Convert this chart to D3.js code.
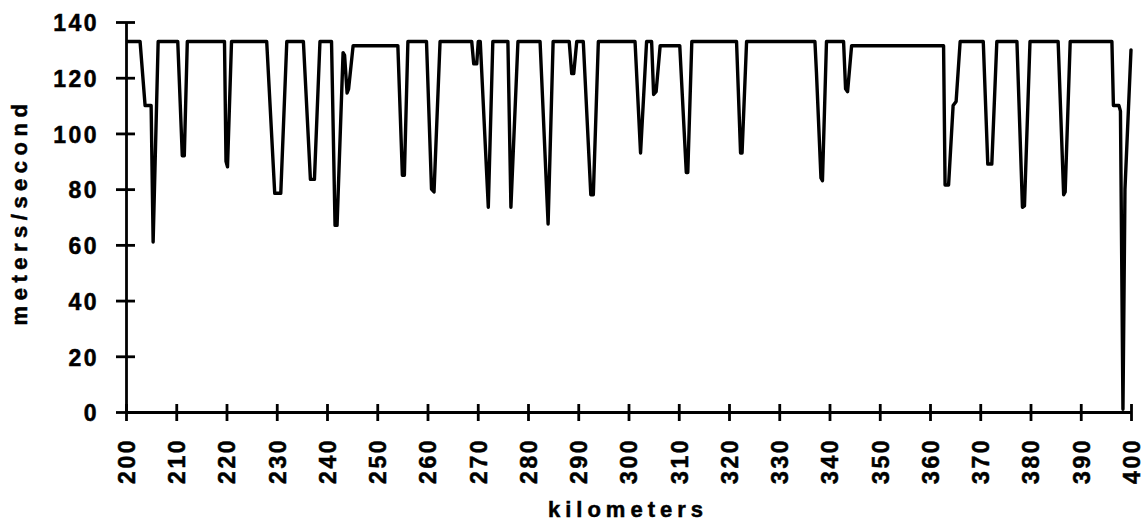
<!DOCTYPE html>
<html>
<head>
<meta charset="utf-8">
<script src="https://cdn.jsdelivr.net/npm/d3@7"></script>
<style>
  html, body { margin: 0; padding: 0; background: #fff; }
  svg { display: block; }
  text { font-family: "Liberation Sans", Arial, Helvetica, sans-serif; font-weight: bold; fill: #000; stroke: #000; stroke-width: 0.5px; }
</style>
</head>
<body>
<svg id="chart" width="1146" height="530"></svg>
<script>
// ---- data ----
const kilometers = [
  200.3, 202.8, 203.8, 205.0, 205.4, 206.4,
  210.3, 211.2, 211.6, 212.2,
  219.6, 219.9, 220.2, 221.0,
  228.0, 229.6, 230.8, 232.0,
  235.3, 236.7, 237.5, 238.6,
  240.9, 241.6, 242.0, 242.6, 243.2, 243.5, 244.0, 244.3, 245.2,
  254.1, 255.0, 255.4, 256.1,
  259.8, 260.8, 261.3, 262.5,
  268.8, 269.2, 269.8, 270.1,
  270.5, 272.1, 273.0,
  276.0, 276.6, 278.0,
  282.4, 284.0, 285.0,
  288.2, 288.7, 289.1, 289.7,
  291.0, 292.5, 293.0, 294.0,
  301.3, 302.4, 303.6,
  304.6, 305.0, 305.5, 306.3,
  310.2, 311.5, 311.8, 312.6,
  321.5, 322.3, 322.6, 323.5,
  337.1, 337.4, 338.3, 338.6, 339.4,
  342.8, 343.2, 343.6, 344.4,
  362.7, 363.0, 363.7, 364.6, 365.2, 366.0,
  370.6, 371.5, 372.3, 373.3,
  377.3, 378.4, 378.8, 379.9,
  385.5, 386.6, 386.9, 387.9,
  396.2, 396.5, 397.6, 397.9, 398.4, 398.8, 400.0
];
const metersPerSecond = [
  133, 133, 110, 110, 61, 133,
  133, 92, 92, 133,
  133, 90, 88, 133,
  133, 78.5, 78.5, 133,
  133, 83.5, 83.5, 133,
  133, 67, 67, 98, 129, 128, 114.5, 116, 131.5,
  131.5, 85, 85, 133,
  133, 80, 79, 133,
  133, 125, 125, 133,
  133, 73.5, 133,
  133, 73.5, 133,
  133, 67.5, 133,
  133, 121.5, 121.5, 133,
  133, 78, 78, 133,
  133, 93, 133,
  133, 114, 115, 131.5,
  131.5, 86, 86, 133,
  133, 93, 93, 133,
  133, 122, 84, 83, 133,
  133, 116, 115, 131.5,
  131.5, 81.5, 81.5, 110, 111.5, 133,
  133, 89, 89, 133,
  133, 73.5, 74, 133,
  133, 78, 79, 133,
  133, 110, 110, 108, 1, 80, 130
];
const xTicks = d3.range(200, 401, 10);
const yTicks = [0, 20, 40, 60, 80, 100, 120, 140];
const xTitle = "kilometers";
const yTitle = "meters/second";

// ---- layout ----
const svg = d3.select("#chart");
const mLeft = 126, mRight = 1131, mTop = 22, mBottom = 412;

const x = d3.scaleLinear().domain([200, 400]).range([mLeft, mRight]);
const y = d3.scaleLinear().domain([0, 140]).range([mBottom, mTop]);

const points = kilometers.map((k, i) => [k, metersPerSecond[i]]);

// data line
svg.append("path")
  .datum(points)
  .attr("fill", "none")
  .attr("stroke", "#000")
  .attr("stroke-width", 3.4)
  .attr("stroke-linejoin", "round")
  .attr("stroke-linecap", "round")
  .attr("d", d3.line().x(d => x(d[0])).y(d => y(d[1])));

// y axis
const yAxis = svg.append("g")
  .attr("transform", `translate(${mLeft},0)`)
  .call(d3.axisLeft(y).tickValues(yTicks).tickSize(10).tickPadding(17).tickSizeOuter(0));
yAxis.select(".domain").attr("stroke", "#000").attr("stroke-width", 2.8);
yAxis.selectAll(".tick line").attr("x1", 9).attr("x2", -10).attr("stroke", "#000").attr("stroke-width", 2.8);
yAxis.selectAll(".tick text")
  .style("font-size", "23px")
  .style("letter-spacing", "2.5px")
  .attr("dy", "0.38em");

// x axis
const xAxis = svg.append("g")
  .attr("transform", `translate(0,${mBottom})`)
  .call(d3.axisBottom(x).tickValues(xTicks).tickSize(9).tickSizeOuter(0));
xAxis.select(".domain").attr("stroke", "#000").attr("stroke-width", 2.8);
xAxis.selectAll(".tick line").attr("y1", -8).attr("y2", 9).attr("stroke", "#000").attr("stroke-width", 2.8);
xAxis.selectAll(".tick text")
  .style("font-size", "23px")
  .style("letter-spacing", "2.5px")
  .attr("text-anchor", "end")
  .attr("transform", "rotate(-90)")
  .attr("x", -26)
  .attr("y", 0)
  .attr("dy", "0.36em");

// titles
svg.append("text")
  .attr("x", 628)
  .attr("y", 517)
  .attr("text-anchor", "middle")
  .style("font-size", "22px")
  .style("letter-spacing", "5px")
  .text(xTitle);

svg.append("text")
  .attr("transform", "translate(27,212) rotate(-90)")
  .attr("text-anchor", "middle")
  .style("font-size", "22px")
  .style("letter-spacing", "5.5px")
  .text(yTitle);
</script>
</body>
</html>
